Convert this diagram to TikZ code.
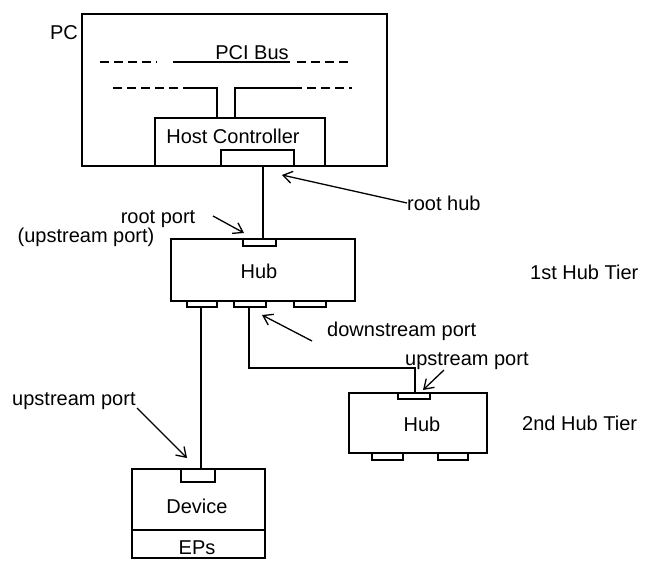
\documentclass[tikz,border=0pt]{standalone}
\usepackage{fontspec}
\setmainfont{Liberation Sans}
\usetikzlibrary{arrows.meta}
\begin{document}
\begin{tikzpicture}[x=1pt,y=-1pt,
  box/.style={draw,line width=1.7pt,inner sep=0pt,fill=white},
  cable/.style={line width=2.8pt},
  bus/.style={line width=1.4pt},
  busdash/.style={line width=1.4pt,dash pattern=on 9pt off 5pt},
  lab/.style={font=\fontsize{20}{23}\selectfont,inner sep=0pt},
  pointer/.style={line width=1.3pt,-{Straight Barb[length=9pt,width=12pt,line width=1.3pt]}}]
\useasboundingbox (0,0) rectangle (655,561);

% PC
\node[box,minimum width=305pt,minimum height=152pt] (pc) at (234.5,90) {};
\node[lab] (pclab) at (64,33) {PC};
\node[lab] (pcibus) at (252,53) {PCI Bus};
\draw[busdash] (100,62) -- (157,62);
\draw[bus] (173,62) -- (290,62);
\draw[busdash] (297,62) -- (352,62);
\draw[busdash] (113,88) -- (187,88);
\draw[bus] (187,88) -- (217,88) -- (217,118);
\draw[bus] (235,118) -- (235,88) -- (293,88);
\draw[busdash] (293,88) -- (352,88);

% Host controller
\node[box,minimum width=170pt,minimum height=48pt] (hc) at (240,142) {};
\node[lab] (hclab) at (233,136) {Host Controller};
\node[box,minimum width=73pt,minimum height=16pt] (hcport) at (257.5,158) {};

% Hub 1
\node[box,minimum width=184pt,minimum height=62pt] (hub1) at (263,270) {};
\node[lab] (hub1lab) at (259,271) {Hub};
\node[box,minimum width=33pt,minimum height=7pt] (rootport) at (259.5,242.5) {};
\node[box,minimum width=30pt,minimum height=6pt] (hp1) at (202,304) {};
\node[box,minimum width=32pt,minimum height=6pt] (hp2) at (250,304) {};
\node[box,minimum width=32pt,minimum height=6pt] (hp3) at (310,304) {};

% Hub 2
\node[box,minimum width=138pt,minimum height=60pt] (hub2) at (418,423) {};
\node[lab] (hub2lab) at (422,424) {Hub};
\node[box,minimum width=32pt,minimum height=6pt] (h2up) at (414,396) {};
\node[box,minimum width=31pt,minimum height=7pt] (h2p1) at (387.5,456.5) {};
\node[box,minimum width=30pt,minimum height=7pt] (h2p2) at (453,456.5) {};

% Device
\node[box,minimum width=133pt,minimum height=89pt] (dev) at (198.5,513.5) {};
\node[box,minimum width=34pt,minimum height=13pt] (dport) at (198,475.5) {};
\draw[bus] (dev.west |- 0,530) -- (dev.east |- 0,530);
\node[lab] (devlab) at (197,506) {Device};
\node[lab] (eplab) at (197,548) {EPs};

% cables
\coordinate (rh) at (263,166);
\draw[cable] (rh) -- (rh |- hub1.north);
\coordinate (c1) at (201,307);
\draw[cable] (c1) -- (c1 |- dport.north);
\coordinate (c2) at (249,307);
\coordinate (c2b) at (415,368);
\draw[cable] (c2) |- (c2b) -- (c2b |- hub2.north);

% labels and pointers
\node[lab,anchor=west] (roothub) at (407,203) {root hub};
\coordinate (roothubtip) at (282,175);
\draw[pointer] (roothub.west) -- (roothubtip);

\node[lab] (rootport1) at (158,219) {root port};
\node[lab] (rootport2) at (86,237) {(upstream port)};
\coordinate (rptail) at (213,216);
\coordinate (rptip) at (244,233);
\draw[pointer] (rptail) -- (rptip);

\node[lab,anchor=west] (downport) at (327,331) {downstream port};
\coordinate (dptail) at (312,341);
\coordinate (dptip) at (262,315);
\draw[pointer] (dptail) -- (dptip);

\node[lab,anchor=west] (up2) at (405,361) {upstream port};
\coordinate (u2tail) at (444,370);
\coordinate (u2tip) at (423,390);
\draw[pointer] (u2tail) -- (u2tip);

\node[lab,anchor=west] (up1) at (12,401) {upstream port};
\coordinate (u1tail) at (137,408);
\coordinate (u1tip) at (187,458);
\draw[pointer] (u1tail) -- (u1tip);

\node[lab,anchor=west] (tier1) at (530,272) {1st Hub Tier};
\node[lab,anchor=west] (tier2) at (522,423) {2nd Hub Tier};
\end{tikzpicture}
\end{document}
